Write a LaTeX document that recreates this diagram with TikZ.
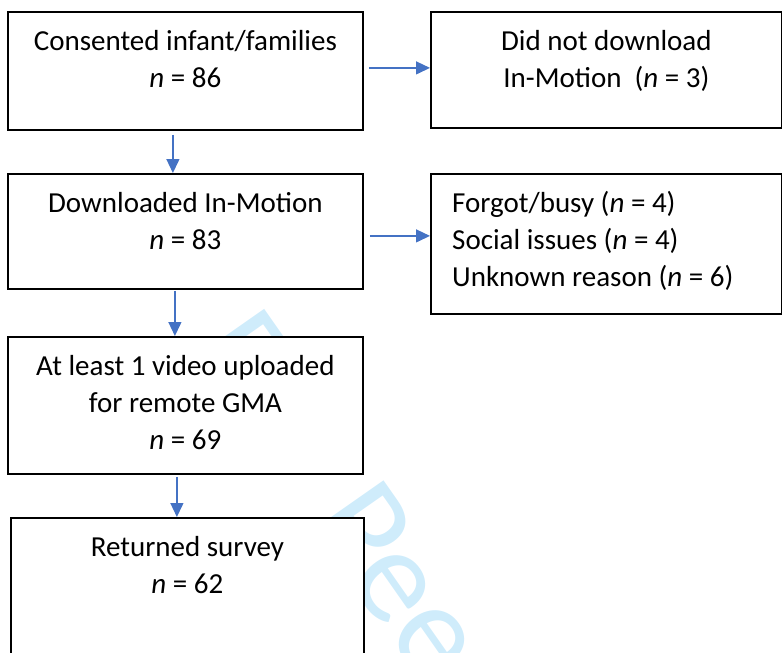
\documentclass[tikz,border=0pt]{standalone}
\usepackage{fontspec}
\setmainfont{Carlito}
\usetikzlibrary{arrows.meta}

\begin{document}
\begin{tikzpicture}[x=1pt,y=-1pt,
  box/.style={draw=black, line width=1.8pt, fill=white, rectangle, inner sep=0pt, anchor=north west},
  boxtext/.style={font=\fontsize{29}{37}\selectfont, inner sep=0pt, anchor=north, align=center},
  flow/.style={draw=flowColor, line width=1.3pt, -{Triangle[length=14pt,width=13pt]}}]
% Colors
\definecolor{flowColor}{RGB}{68,114,196}
\definecolor{markColor}{RGB}{207,236,251}
\useasboundingbox (0,0) rectangle (782,653);
% Watermark behind the boxes
\node[markColor, font=\fontsize{135}{135}\selectfont, rotate=-55, anchor=base west, inner sep=0pt] (mark) at (188,351) {For Peer Review};
% Boxes
\node[box, minimum width=355pt, minimum height=118pt] (consent)  at (  7, 11) {};
\node[box, minimum width=351pt, minimum height=116pt] (nodl)     at (430, 11) {};
\node[box, minimum width=355pt, minimum height=115pt] (download) at (  7,173) {};
\node[box, minimum width=351pt, minimum height=140pt] (reasons)  at (430,173) {};
\node[box, minimum width=355pt, minimum height=137pt] (video)    at (  7,336) {};
\node[box, minimum width=353pt, minimum height=160pt] (survey)   at ( 10,517) {};
% Texts
\node[boxtext] (consentTxt)  at ([yshift=-13pt]consent.north)  {\strut Consented infant/families\\\textit{n} = 86};
\node[boxtext] (nodlTxt)     at ([yshift=-13pt]nodl.north)     {\strut Did not download\\In-Motion\ \ (\textit{n} = 3)};
\node[boxtext] (downloadTxt) at ([yshift=-13pt]download.north) {\strut Downloaded In-Motion\\\textit{n} = 83};
\node[boxtext, anchor=north west, align=left] (reasonsTxt) at ([xshift=22pt,yshift=-13pt]reasons.north west)
  {\strut Forgot/busy (\textit{n} = 4)\\Social issues (\textit{n} = 4)\\Unknown reason (\textit{n} = 6)};
\node[boxtext] (videoTxt)    at ([yshift=-13pt]video.north)    {\strut At least 1 video uploaded\\for remote GMA\\\textit{n} = 69};
\node[boxtext] (surveyTxt)   at ([yshift=-13pt]survey.north)   {\strut Returned survey\\\textit{n} = 62};
% Flow arrows
\draw[flow] ([xshift=-12.5pt,yshift=-4pt]consent.south) -- ([xshift=-12.5pt]download.north);
\draw[flow] ([xshift=-10.5pt,yshift=-1pt]download.south) -- ([xshift=-10.5pt]video.north);
\draw[flow] ([xshift=-8.5pt,yshift=-2pt]video.south) -- ([xshift=-10.5pt]survey.north);
\draw[flow] ([xshift=5pt,yshift=3pt]consent.east) -- ([yshift=3pt]consent.east -| nodl.west);
\draw[flow] ([xshift=6pt,yshift=-4.5pt]download.east) -- ([yshift=-4.5pt]download.east -| reasons.west);
\end{tikzpicture}
\end{document}
